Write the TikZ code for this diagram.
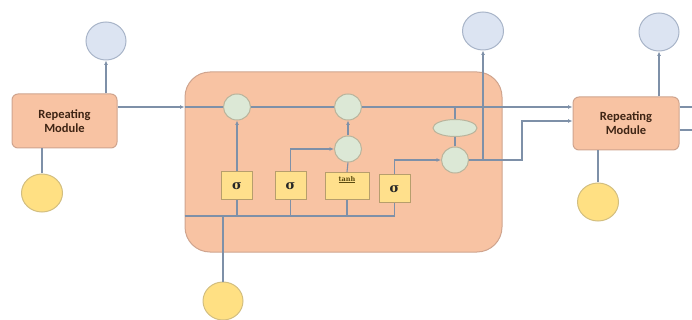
\documentclass[tikz,border=0pt]{standalone}
\usepackage{fontspec}
\newfontfamily\calfont{Carlito}
\newfontfamily\grkfont{DejaVu Serif}
\usetikzlibrary{arrows.meta,shapes.geometric}
\definecolor{peach}{HTML}{F8C3A3}
\definecolor{peachb}{HTML}{CFA48E}
\definecolor{bluef}{HTML}{DCE4F2}
\definecolor{blueb}{HTML}{A8B4C8}
\definecolor{yelf}{HTML}{FFE083}
\definecolor{yelb}{HTML}{D2BE80}
\definecolor{grnf}{HTML}{DCE8D6}
\definecolor{grnb}{HTML}{B9B49C}
\definecolor{gatef}{HTML}{FFE08C}
\definecolor{gateb}{HTML}{B79E6C}
\definecolor{lnc}{HTML}{7E90A8}
\definecolor{txt}{HTML}{3E2414}
\definecolor{tanhc}{HTML}{5A4A10}
\begin{document}
\begin{tikzpicture}[x=1pt,y=-1pt,
  ln/.style={draw=lnc,line width=1.1pt},
  arrow/.style={ln,-{Latex[length=4.5pt,width=4pt]}},
  module/.style={draw=peachb,fill=peach,line width=1pt,rounded corners=6pt,minimum width=105pt,minimum height=54pt,inner sep=0pt,
    font=\calfont\bfseries\fontsize{12.5}{14}\selectfont,text=txt,align=center},
  outc/.style={ellipse,draw=blueb,fill=bluef,line width=1pt,minimum width=40pt,minimum height=38pt,inner sep=0pt},
  inc/.style={ellipse,draw=yelb,fill=yelf,line width=1pt,minimum width=41pt,minimum height=38pt,inner sep=0pt},
  op/.style={ellipse,draw=grnb,fill=grnf,line width=1pt,minimum width=27pt,minimum height=26pt,inner sep=0pt},
  gate/.style={draw=gateb,fill=gatef,line width=1pt,minimum width=31pt,minimum height=28pt,inner sep=0pt,text=black!85,font=\grkfont\bfseries\fontsize{13}{13}\selectfont},
]
\useasboundingbox (0,0) rectangle (692,320);
% outer cell
\node[draw=peachb,fill=peach,line width=1pt,rounded corners=25pt,minimum width=317pt,minimum height=180pt] (big) at (343.5,162) {};
% left module
\node[module] (mod1) at (64.5,121) {Repeating\\Module};
\node[outc] (blue1) at (106,41) {};
\node[inc] (yel1) at (42,193) {};
\draw[arrow] (blue1.south |- mod1.north) -- (blue1.south);
\draw[ln] (yel1.north |- mod1.south) -- (yel1.north);
% right module
\node[module,minimum width=106pt,minimum height=53pt] (mod2) at (626,123.5) {Repeating\\Module};
\node[outc] (blue3) at (659,32) {};
\node[inc] (yel3) at (598,202) {};
\draw[arrow] (blue3.south |- mod2.north) -- (blue3.south);
\draw[ln] (yel3.north |- mod2.south) -- (yel3.north);
% inside operations
\node[op] (c1) at (237,107) {};
\node[op] (c2) at (348,107) {};
\node[op] (c3) at (348,149) {};
\node[op] (c4) at (455,160) {};
\node[op,minimum width=44pt,minimum height=17pt] (ell) at (455,128) {};
% gates
\node[gate] (s1) at (237,186) {σ};
\node[gate] (s2) at (290.5,186) {σ};
\node[gate,minimum width=44pt,minimum height=27pt] (th) at (347,186) {};
\node[font=\grkfont\bfseries\fontsize{6.5}{8}\selectfont,text=tanhc,anchor=north,inner sep=0pt] (thl) at ([yshift=-4pt]th.north) {\underline{tanh}};
\node[gate] (s3) at (394.5,189) {σ};
% input
\node[inc,minimum width=40pt] (yel2) at (223,301) {};
\coordinate (bus) at (0,216);
\coordinate (k) at (522,121);
\coordinate (e1) at (692,107);
\coordinate (e2) at (692,130);
\node[outc,minimum width=41pt] (blue2) at (483,31) {};
% top line
\draw[arrow] (mod1.east |- c1) -- (big.west |- c1);
\draw[ln] (big.west |- c1) -- (c1.west);
\draw[ln] (c1.east) -- (c2.west);
\draw[arrow] (c2.east) -- (mod2.west |- c2);
% bus
\draw[ln] (big.west |- bus) -- (s3.south |- bus) -- (s3.south);
\draw[ln] (s1.south) -- (s1.south |- bus);
\draw[ln] (s2.south) -- (s2.south |- bus);
\draw[ln] (th.south) -- (th.south |- bus);
\draw[ln] (yel2.north) -- (yel2.north |- bus);
% gate connections
\draw[arrow] (s1.north) -- (c1.south);
\draw[arrow] (s2.north) |- (c3.west);
\draw[ln] (th.north) -- (c3.south);
\draw[arrow] (c3.north) -- (c2.south);
\draw[arrow] (s3.north) |- (c4.west);
\draw[ln] (c4.north) -- (ell.south);
\draw[ln] (ell.north) -- (ell.north |- c1);
\draw[arrow] (c4.east) -| (k) -- (mod2.west |- k);
\draw[arrow] (blue2.south |- c4) -- (blue2.south);
% exits
\draw[ln] (mod2.east |- e1) -- (e1);
\draw[ln] (mod2.east |- e2) -- (e2);
\end{tikzpicture}
\end{document}
